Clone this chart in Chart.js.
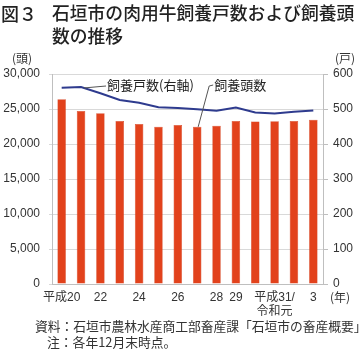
<!DOCTYPE html>
<html><head><meta charset="utf-8">
<script src="https://cdn.jsdelivr.net/npm/chart.js@4"></script>
<style>
body{margin:0;width:360px;height:356px;position:relative;background:#fff;overflow:hidden;}
.t{position:absolute;white-space:nowrap;line-height:1;color:#222;font-family:'Noto Sans CJK JP',sans-serif;}
#wrap{position:absolute;left:0;top:0;width:360px;height:356px;}
</style></head>
<body>
<div id="wrap"><canvas id="c"></canvas></div>
<div class="t" style="left:1px;top:4px;font-size:18px;font-weight:500;">図３</div>
<div class="t" style="left:52px;top:4px;font-size:17.8px;font-weight:500;">石垣市の肉用牛飼養戸数および飼養頭</div>
<div class="t" style="left:52px;top:27px;font-size:17.8px;font-weight:500;">数の推移</div>
<div class="t" style="left:35px;top:320px;font-size:12.8px;letter-spacing:-0.05px;color:#333;">資料：石垣市農林水産商工部畜産課「石垣市の畜産概要」</div>
<div class="t" style="left:47px;top:336px;font-size:12.8px;color:#333;">注：各年12月末時点。</div>
<script>
const years = ['平成20','','22','','24','','26','','28','29','',['平成31/','令和元'],'','3'];
const headCount = [26400, 24700, 24400, 23300, 22850, 22450, 22700, 22450, 22600, 23300, 23200, 23250, 23300, 23450];
const farmCount = [561, 563, 545, 526, 518, 505, 503, 499, 495, 504, 490, 487, 492, 496];
const leftTicks = [0, 5000, 10000, 15000, 20000, 25000, 30000];
const rightTicks = [0, 100, 200, 300, 400, 500, 600];
const labelFarm = '飼養戸数(右軸)';
const labelHead = '飼養頭数';
const unitLeft = '(頭)', unitRight = '(戸)', unitX = '(年)';

const FAM = "'Liberation Sans','Noto Sans CJK JP',sans-serif";
const CJK = "'Noto Sans CJK JP','Liberation Sans',sans-serif";
const TXT = '#333';

const annot = {
  id:'annot',
  afterDraw(chart){
    const ctx = chart.ctx, x = chart.scales.x, y = chart.scales.y, y1 = chart.scales.y1, ca = chart.chartArea;
    ctx.save();
    ctx.strokeStyle = '#555'; ctx.lineWidth = 1;
    const px1 = x.getPixelForValue(1) + 3, py1 = y1.getPixelForValue(farmCount[1]) + 1;
    const ty = ca.top + 11;
    ctx.beginPath(); ctx.moveTo(px1, py1); ctx.lineTo(px1 + 22, ty + 1); ctx.stroke();
    ctx.fillStyle = '#222'; ctx.font = '13px ' + CJK; ctx.textBaseline = 'middle'; ctx.textAlign = 'left';
    ctx.fillText(labelFarm, px1 + 23, ty);
    const bx = x.getPixelForValue(7) + 1, by = y.getPixelForValue(headCount[7]);
    ctx.beginPath(); ctx.moveTo(bx, by); ctx.lineTo(bx + 11, ty + 1); ctx.lineTo(bx + 15, ty); ctx.stroke();
    ctx.fillText(labelHead, bx + 16, ty);
    ctx.fillStyle = TXT; ctx.font = '12px ' + CJK;
    ctx.textAlign = 'center';
    ctx.fillText(unitLeft, 22, ca.top - 16);
    ctx.fillText(unitRight, 345, ca.top - 16);
    ctx.textAlign = 'left';
    ctx.fillText(unitX, 330, ca.bottom + 13);
    ctx.restore();
  }
};

new Chart(document.getElementById('c'), {
  data:{
    labels: years,
    datasets:[
      {type:'line', data: farmCount, yAxisID:'y1', borderColor:'#2E3B8E', borderWidth:2, pointRadius:0, tension:0, order:1},
      {type:'bar', data: headCount, yAxisID:'y', backgroundColor:'#E2421C', borderColor:'#CC3A18', borderWidth:0.5, categoryPercentage:1, barPercentage:0.44, order:2}
    ]
  },
  options:{
    responsive:true, maintainAspectRatio:false, animation:false,
    layout:{padding:{top:74,right:0,bottom:0,left:0}},
    plugins:{legend:{display:false}, tooltip:{enabled:false}, title:{display:false}},
    scales:{
      x:{
        grid:{display:false, drawTicks:false},
        border:{display:true, color:'#BFBFBF'},
        ticks:{autoSkip:false, maxRotation:0, minRotation:0, padding:6, color:TXT, font:{size:12, family:FAM}},
        afterFit(s){ s.height = 72; }
      },
      y:{
        position:'left', min:0, max:30000,
        afterBuildTicks(s){ s.ticks = leftTicks.map(v=>({value:v})); },
        ticks:{padding:9, color:TXT, font:{size:12, family:FAM}, callback:v=>v.toLocaleString('en-US')},
        grid:{color:'#D9D9D9', tickLength:3},
        border:{color:'#BFBFBF'},
        afterFit(s){ s.width = 52; }
      },
      y1:{
        position:'right', min:0, max:600,
        afterBuildTicks(s){ s.ticks = rightTicks.map(v=>({value:v})); },
        ticks:{padding:5, color:TXT, font:{size:12, family:FAM}},
        grid:{drawOnChartArea:false, tickLength:5, color:'#BFBFBF'},
        border:{color:'#BFBFBF'},
        afterFit(s){ s.width = 37; }
      }
    }
  },
  plugins:[annot]
});
</script>
</body></html>
